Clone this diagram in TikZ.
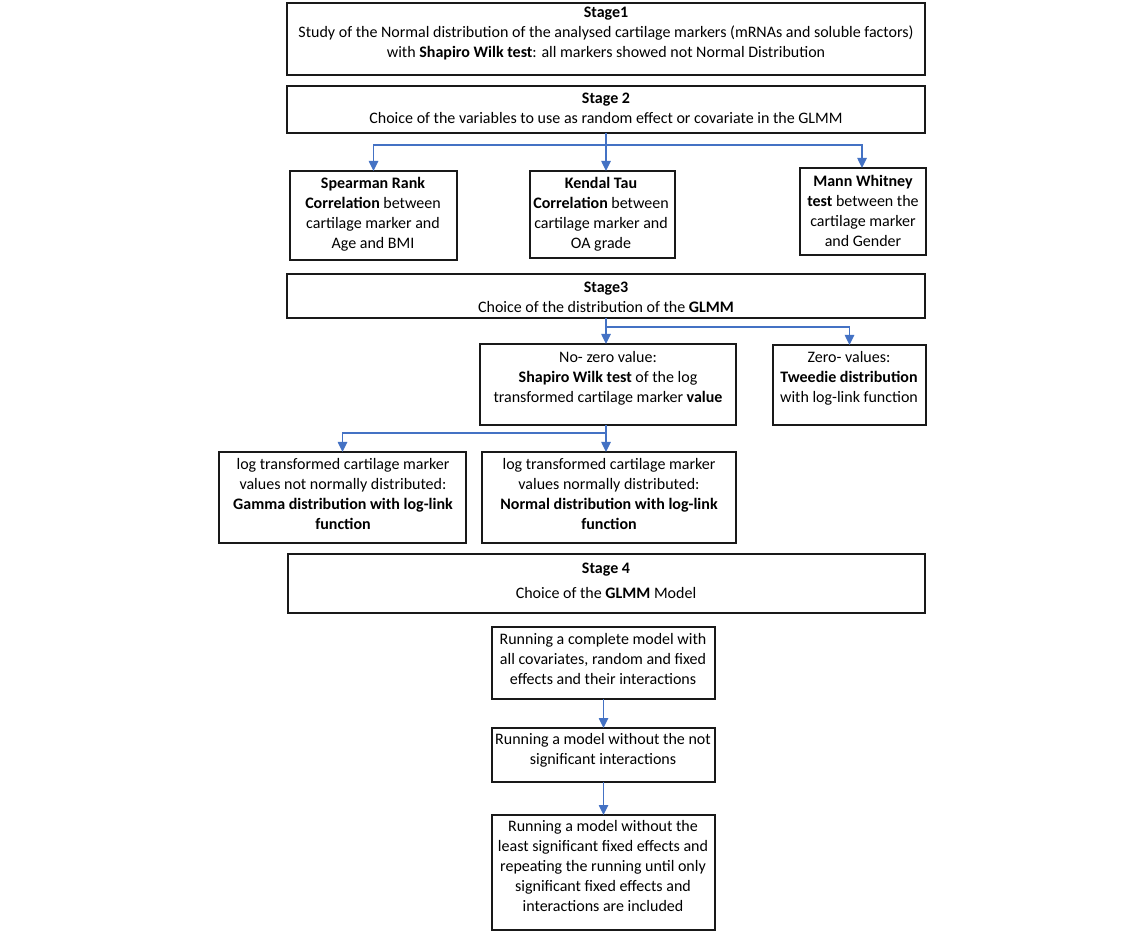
\documentclass[tikz,border=0pt]{standalone}
\usepackage{fontspec}
\setmainfont{Carlito}
\usetikzlibrary{arrows.meta}
\definecolor{arrblue}{HTML}{4472C4}
\newcommand\mybox[5]{\node[box, minimum width={(#4-#2)*0.75pt}, minimum height={(#5-#3)*0.75pt}] (#1) at ({(#2+#4)/2},{(#3+#5)/2}) {};}
\tikzset{
  box/.style={draw=black!90, line width=1.2pt, inner sep=0pt, outer sep=0pt, fill=white},
  txt/.style={align=center, inner sep=0pt, font=\fontsize{12pt}{15pt}\selectfont},
  conn/.style={draw=arrblue, line width=1.1pt},
  arr/.style={conn, -{Triangle[length=7.5pt,width=7pt]}},
}
\begin{document}
\begin{tikzpicture}[x=0.75pt,y=-0.75pt]
\useasboundingbox (0,0) rectangle (1145,944);
\fill[white] (0,0) rectangle (1145,944);
% boxes
\mybox{s1}{287}{3}{925}{75}
\mybox{s2}{287}{86}{925}{133}
\mybox{sp}{290}{171}{457}{260}
\mybox{kt}{530}{171}{675}{258}
\mybox{mw}{800}{168}{926}{255}
\mybox{s3}{287}{274}{925}{318}
\mybox{nz}{480}{344}{736}{425}
\mybox{zv}{773}{345}{926}{425}
\mybox{gd}{219}{452}{466}{543}
\mybox{nd}{482}{452}{736}{543}
\mybox{s4}{288}{554}{925}{613}
\mybox{r1}{492}{627}{715}{699}
\mybox{r2}{492}{728}{715}{782}
\mybox{r3}{492}{815}{715}{930}
% texts
\node[txt] (t1) at (606,34) {\textbf{Stage1}\\Study of the Normal distribution of the analysed cartilage markers (mRNAs and soluble factors)\\with \textbf{Shapiro Wilk test}: all markers showed not Normal Distribution};
\node[txt] (t2) at (606,108) {\textbf{Stage 2}\\Choice of the variables to use as random effect or covariate in the GLMM};
\node[txt] (tsp) at (373,214) {\textbf{Spearman Rank}\\\textbf{Correlation} between\\cartilage marker and\\Age and BMI};
\node[txt] (tkt) at (601,214) {\textbf{Kendal Tau}\\\textbf{Correlation} between\\cartilage marker and\\OA grade};
\node[txt] (tmw) at (863,211) {\textbf{Mann Whitney}\\\textbf{test} between the\\cartilage marker\\and Gender};
\node[txt] (t3) at (606,297) {\textbf{Stage3}\\Choice of the distribution of the \textbf{GLMM}};
\node[txt] (tnz) at (608,378) {No- zero value:\\\textbf{Shapiro Wilk test} of the log\\transformed cartilage marker \textbf{value}};
\node[txt] (tzv) at (849,378) {Zero- values:\\\textbf{Tweedie distribution}\\with log-link function};
\node[txt] (tgd) at (343,494) {log transformed cartilage marker\\values not normally distributed:\\\textbf{Gamma distribution with log-link}\\\textbf{function}};
\node[txt] (tnd) at (609,494) {log transformed cartilage marker\\values normally distributed:\\\textbf{Normal distribution with log-link}\\\textbf{function}};
\node[txt] (t4) at (606,581) {\textbf{Stage 4}\\[4pt]Choice of the \textbf{GLMM} Model};
\node[txt] (tr1) at (603,659) {Running a complete model with\\all covariates, random and fixed\\effects and their interactions};
\node[txt] (tr2) at (603,750) {Running a model without the not\\significant interactions};
\node[txt] (tr3) at (603,866) {Running a model without the\\least significant fixed effects and\\repeating the running until only\\significant fixed effects and\\interactions are included};
% connectors
\coordinate (j2) at (606,145);
\coordinate (j3) at (606,327);
\coordinate (jn) at (606,433);
\draw[conn] (s2.south) -- (j2);
\draw[arr] (j2) -| (sp.north);
\draw[arr] (j2) -| ([xshift=62*0.75pt]mw.north west);
\draw[arr] (s2.south) -- (s2.south |- kt.north);
\draw[arr] (s3.south) -- (s3.south |- nz.north);
\draw[arr] (j3) -| (zv.north);
\draw[conn] (nz.south -| jn) -- (jn);
\draw[arr] (jn) -| (gd.north);
\draw[arr] (jn) -- (jn |- nd.north);
\draw[arr] (r1.south) -- (r2.north);
\draw[arr] (r2.south) -- (r3.north);
\end{tikzpicture}
\end{document}
